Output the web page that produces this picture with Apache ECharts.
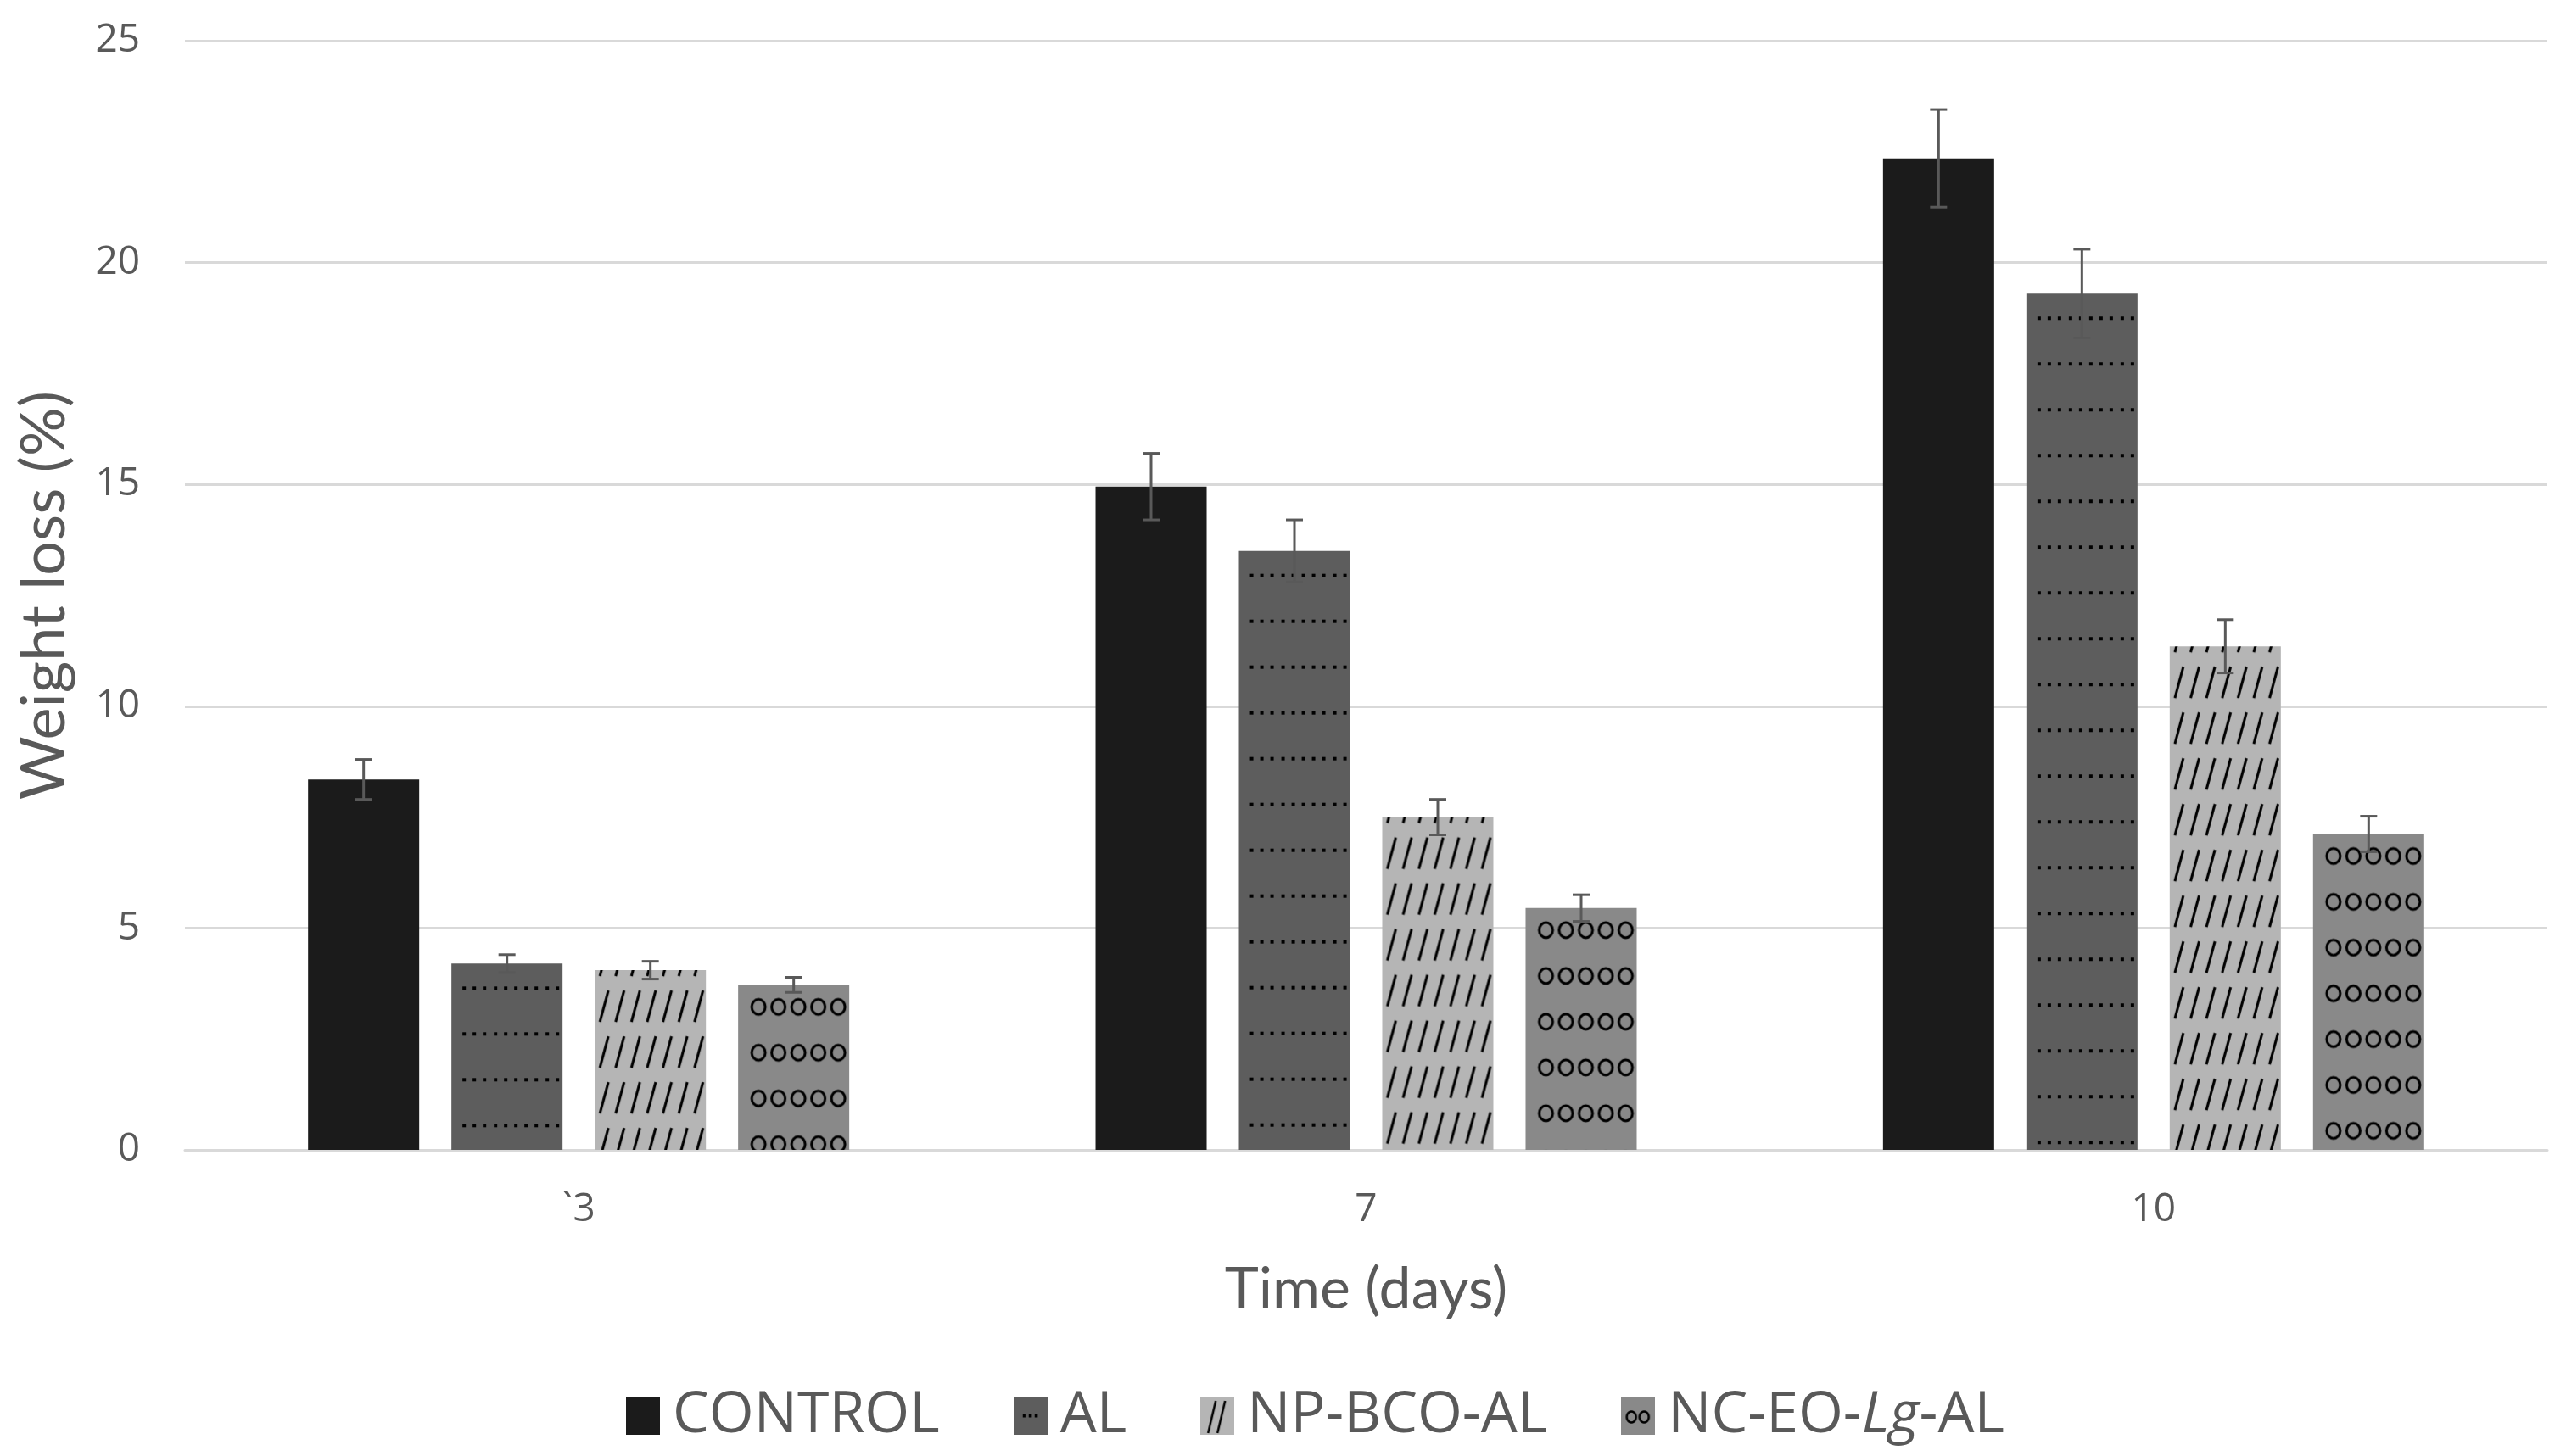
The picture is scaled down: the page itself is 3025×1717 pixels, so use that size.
<!DOCTYPE html>
<html>
<head>
<meta charset="utf-8">
<script src="https://cdn.jsdelivr.net/npm/echarts@6/dist/echarts.min.js"></script>
<style>
html,body{margin:0;padding:0;background:#fff;}
#main{width:3025px;height:1717px;}
</style>
</head>
<body>
<div id="main"></div>
<script>
// ---- data ----
const categories = ['`3', '7', '10'];
const seriesNames = ['CONTROL', 'AL', 'NP-BCO-AL', 'NC-EO-Lg-AL'];
const controlValues = [8.35, 14.95, 22.35];
const alValues = [4.2, 13.5, 19.3];
const npValues = [4.05, 7.5, 11.35];
const ncValues = [3.72, 5.45, 7.12];
const controlErr = [0.45, 0.75, 1.1];
const alErr = [0.2, 0.7, 1.0];
const npErr = [0.2, 0.4, 0.6];
const ncErr = [0.17, 0.3, 0.4];
const yTicks = [0, 5, 10, 15, 20, 25];

const values = [controlValues, alValues, npValues, ncValues];
const errs = [controlErr, alErr, npErr, ncErr];
const colors = ['#1b1b1b', '#5d5d5d', '#b5b5b5', '#898989'];

// ---- pattern tiles (one tile spans a whole bar width, repeats vertically) ----
const TILE_W = 160, TILE_H = 54;
function tile(bg, draw) {
  const c = document.createElement('canvas');
  c.width = TILE_W; c.height = TILE_H;
  const g = c.getContext('2d');
  g.fillStyle = bg; g.fillRect(0, 0, TILE_W, TILE_H);
  g.fillStyle = '#000'; g.strokeStyle = '#000';
  draw(g);
  return c;
}
const dotTile = tile(colors[1], g => {
  for (let j = 0; j < 10; j++) g.fillRect(Math.round(13 + 12.2 * j), 27, 4, 4);
});
const slashTile = tile(colors[2], g => {
  g.lineWidth = 3; g.lineCap = 'butt';
  for (let j = 0; j < 7; j++) {
    const bx = 6 + 18.6 * j;
    g.beginPath(); g.moveTo(bx, 44); g.lineTo(bx + 10, 7); g.stroke();
  }
});
const circleTile = tile(colors[3], g => {
  g.lineWidth = 3;
  for (let j = 0; j < 5; j++) {
    g.beginPath(); g.ellipse(24 + 23.5 * j, 27, 8, 9, 0, 0, Math.PI * 2); g.stroke();
  }
});
const tiles = [null, dotTile, slashTile, circleTile];
// vertical phase of each pattern relative to the bar top
const tileShiftY = [0, 0, 17, -1];

// ---- legend icons ----
function iconURL(bg, draw) {
  const c = document.createElement('canvas');
  c.width = 80; c.height = 88;
  const g = c.getContext('2d');
  g.fillStyle = bg; g.fillRect(0, 0, 80, 88);
  g.fillStyle = '#000'; g.strokeStyle = '#000';
  draw(g);
  return 'image://' + c.toDataURL();
}
const legendIcons = [
  iconURL(colors[0], g => {}),
  iconURL(colors[1], g => { [22, 36, 50].forEach(x => g.fillRect(x, 38, 7, 9)); }),
  iconURL(colors[2], g => {
    g.lineWidth = 5;
    g.beginPath(); g.moveTo(18, 84); g.lineTo(36, 8); g.stroke();
    g.beginPath(); g.moveTo(40, 84); g.lineTo(58, 8); g.stroke();
  }),
  iconURL(colors[3], g => {
    g.lineWidth = 5;
    g.beginPath(); g.ellipse(24, 46, 11, 13, 0, 0, Math.PI * 2); g.stroke();
    g.beginPath(); g.ellipse(54, 46, 11, 13, 0, 0, Math.PI * 2); g.stroke();
  })
];

const BAR_W = 131, BAR_GAP = 38;

const barSeries = seriesNames.map((name, i) => ({
  name: name,
  type: 'bar',
  barWidth: BAR_W,
  barGap: (BAR_GAP / BAR_W * 100).toFixed(1) + '%',
  itemStyle: { color: colors[i] },
  data: values[i],
  z: 2
}));

const errSeries = seriesNames.map((name, i) => ({
  name: name + ' err',
  type: 'custom',
  z: 5,
  data: values[i].map((v, k) => [k, v, errs[i][k]]),
  encode: { x: 0, y: 1 },
  renderItem: function (params, api) {
    const k = api.value(0), v = api.value(1), e = api.value(2);
    const off = (i - 1.5) * (BAR_W + BAR_GAP);
    const top = api.coord([k, v + e]);
    const bot = api.coord([k, v - e]);
    const x = top[0] + off;
    const st = { stroke: '#595959', lineWidth: 3 };
    return {
      type: 'group',
      children: [
        { type: 'line', shape: { x1: x, y1: top[1], x2: x, y2: bot[1] }, style: st },
        { type: 'line', shape: { x1: x - 10, y1: top[1], x2: x + 10, y2: top[1] }, style: st },
        { type: 'line', shape: { x1: x - 10, y1: bot[1], x2: x + 10, y2: bot[1] }, style: st }
      ]
    };
  }
}));

const chart = echarts.init(document.getElementById('main'), null, { renderer: 'canvas' });
chart.setOption({
  animation: false,
  backgroundColor: '#fff',
  grid: { left: 218, right: 22, top: 48, bottom: 361, containLabel: false },
  legend: {
    left: 733,
    top: 1631,
    itemWidth: 40,
    itemHeight: 44,
    itemGap: 87,
    data: seriesNames.map((n, i) => ({ name: n, icon: legendIcons[i] })),
    formatter: function (name) {
      if (name === 'NC-EO-Lg-AL') return '{n|NC-EO-}{i|Lg}{n|-AL}';
      return '{n|' + name + '}';
    },
    textStyle: {
      padding: [0, 0, 0, 10],
      rich: {
        n: { fontFamily: 'Open Sans', fontSize: 68, color: '#595959' },
        i: { fontFamily: 'Open Sans', fontSize: 68, color: '#595959', fontStyle: 'italic' }
      }
    }
  },
  xAxis: {
    type: 'category',
    data: categories,
    name: 'Time (days)',
    nameLocation: 'middle',
    nameGap: 131,
    nameTextStyle: { fontFamily: 'Lato', fontSize: 68, color: '#595959' },
    axisLine: { lineStyle: { color: '#d9d9d9', width: 3 } },
    axisTick: { show: false },
    axisLabel: { fontFamily: 'Open Sans', fontSize: 46, color: '#595959', margin: 48 }
  },
  yAxis: {
    type: 'value',
    min: yTicks[0],
    max: yTicks[yTicks.length - 1],
    interval: yTicks[1] - yTicks[0],
    name: 'Weight loss (%)',
    nameLocation: 'middle',
    nameGap: 129,
    nameTextStyle: { fontFamily: 'Lato', fontSize: 72, color: '#595959' },
    axisLine: { show: false },
    axisTick: { show: false },
    splitLine: { lineStyle: { color: '#d9d9d9', width: 3 } },
    axisLabel: { fontFamily: 'Open Sans', fontSize: 46, color: '#595959', margin: 53 }
  },
  series: barSeries.concat(errSeries)
});

// second pass: each patterned bar gets a fill anchored to its own top-left corner
const patterned = barSeries.map((s, i) => {
  if (!tiles[i]) return { data: values[i] };
  const data = chart.getModel().getSeriesByIndex(i).getData();
  return {
    data: values[i].map((v, k) => {
      const L = data.getItemLayout(k);
      const left = Math.min(L.x, L.x + L.width);
      const top = Math.min(L.y, L.y + L.height);
      return {
        value: v,
        itemStyle: {
          color: {
            image: tiles[i], repeat: 'repeat',
            x: left, y: top + tileShiftY[i]
          }
        }
      };
    })
  };
});
chart.setOption({ series: patterned });
</script>
</body>
</html>
